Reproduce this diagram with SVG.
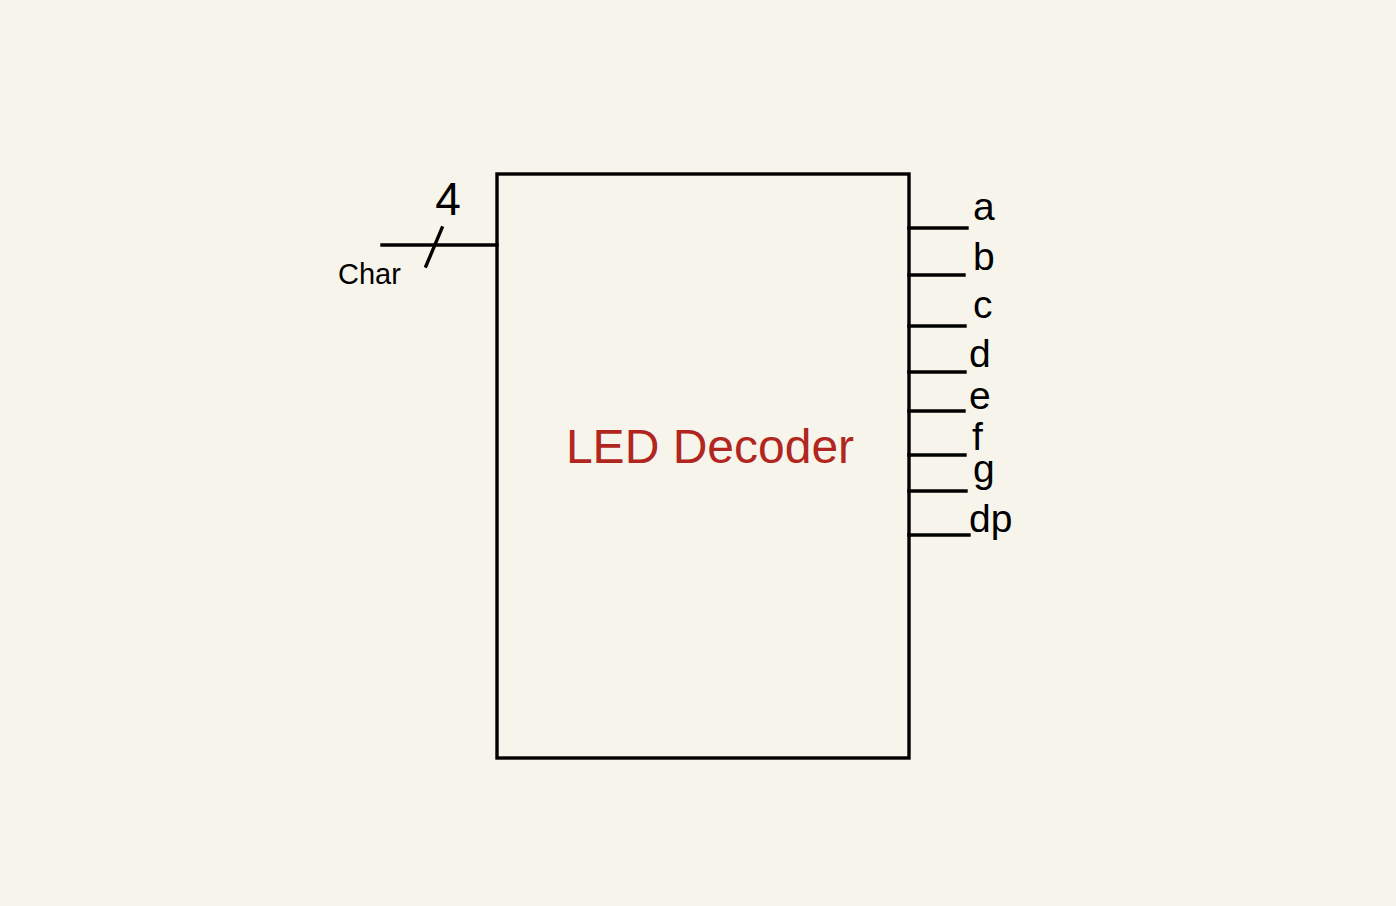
<svg xmlns="http://www.w3.org/2000/svg" width="1396" height="906" viewBox="0 0 1396 906">
<style>
.w{stroke:#000;stroke-width:3.4;fill:none;stroke-linecap:square}
.t{font-family:"Liberation Sans",Arial,sans-serif;fill:#000}
.o{font-size:39px}
</style>
<rect width="1396" height="906" fill="#f7f5eb"/>
<g id="decoder">
<rect x="497" y="174" width="412" height="584" class="w"/>
<text x="710" y="463" text-anchor="middle" class="t" style="font-size:48px;fill:#b1271f">LED Decoder</text>
</g>
<g id="connectors">
<line x1="382" y1="245" x2="497" y2="245" class="w"/>
<line x1="426" y1="266" x2="442" y2="228" class="w"/>
<line x1="909" y1="228" x2="967" y2="228" class="w"/>
<line x1="909" y1="275" x2="964" y2="275" class="w"/>
<line x1="909" y1="326" x2="965" y2="326" class="w"/>
<line x1="909" y1="372" x2="965" y2="372" class="w"/>
<line x1="909" y1="411" x2="964" y2="411" class="w"/>
<line x1="909" y1="455" x2="965" y2="455" class="w"/>
<line x1="909" y1="491" x2="966" y2="491" class="w"/>
<line x1="909" y1="535" x2="969" y2="535" class="w"/>
</g>
<g id="labels">
<text x="448" y="215" text-anchor="middle" class="t" style="font-size:46px">4</text>
<text x="338" y="284" class="t" style="font-size:29px">Char</text>
<text x="973" y="220" class="t o">a</text>
<text x="973" y="270" class="t o">b</text>
<text x="973" y="318" class="t o">c</text>
<text x="969" y="367" class="t o">d</text>
<text x="969" y="409" class="t o">e</text>
<text x="972" y="450" class="t o">f</text>
<text x="973" y="482" class="t o">g</text>
<text x="969" y="532" class="t o">dp</text>
</g>
</svg>
